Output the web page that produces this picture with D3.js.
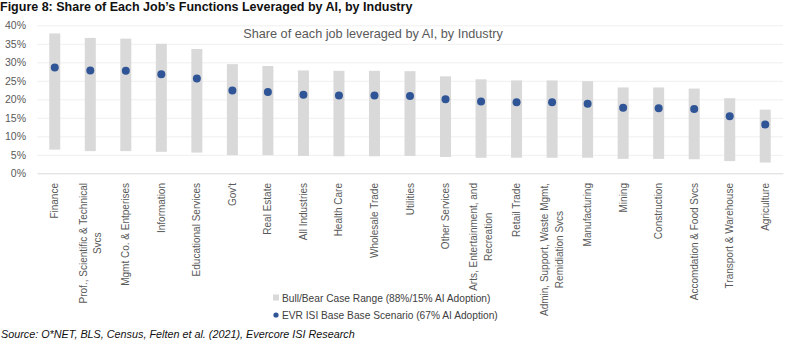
<!DOCTYPE html>
<html>
<head>
<meta charset="utf-8">
<script src="https://cdn.jsdelivr.net/npm/d3@7"></script>
<style>
  body { margin: 0; background: #fff; }
  svg { display: block; font-family: Arial, "Liberation Sans", sans-serif; }
  .grid line { stroke: #efefef; stroke-width: 1; }
  .grid .domain { display: none; }
</style>
</head>
<body>
<script>
// Industries in chart order ("\n" = line break in the axis label)
const categories = [
  "Finance", "Prof., Scientific & Technical\nSvcs", "Mgmt Co. & Entperises",
  "Information", "Educational Services", "Gov't", "Real Estate", "All Industries",
  "Health Care", "Wholesale Trade", "Utilities", "Other Services",
  "Arts, Entertainment, and\nRecreation", "Retail Trade",
  "Admin, Support, Waste Mgmt,\nRemidiation Svcs", "Manufacturing", "Mining",
  "Construction", "Accomdation & Food Svcs", "Transport & Warehouse", "Agriculture"
];
// Bull case (88% adoption) - top of grey bar
const bullCase = [37.8, 36.6, 36.4, 35.0, 33.6, 29.5, 29.0, 27.8, 27.7, 27.7, 27.6,
  26.2, 25.4, 25.1, 25.1, 24.9, 23.2, 23.2, 22.9, 20.3, 17.2];
// Bear case (15% adoption) - bottom of grey bar
const bearCase = [6.4, 6.0, 6.0, 5.8, 5.6, 4.9, 4.9, 4.7, 4.6, 4.6, 4.7,
  4.4, 4.2, 4.2, 4.2, 4.2, 3.9, 3.9, 3.8, 3.3, 2.9];
// EVR ISI base scenario (67% adoption)
const baseCase = [28.6, 27.8, 27.7, 26.8, 25.6, 22.4, 22.0, 21.2, 21.0, 21.0, 20.9,
  20.0, 19.4, 19.2, 19.2, 18.8, 17.7, 17.6, 17.4, 15.4, 13.2];
const yTicks = [0, 5, 10, 15, 20, 25, 30, 35, 40];

const rows = categories.map((c, i) => ({ cat: c, hi: bullCase[i], lo: bearCase[i], base: baseCase[i] }));

const W = 800, H = 342;
const plot = { left: 37, right: 783, top: 25.3, bottom: 173.3 };

const svg = d3.select("body").append("svg")
  .attr("width", W).attr("height", H);

const x = d3.scaleBand().domain(categories).range([plot.left, plot.right]);
const y = d3.scaleLinear().domain([0, 40]).range([plot.bottom, plot.top]);

// gridlines
svg.append("g")
  .attr("class", "grid")
  .attr("transform", `translate(${plot.left},0)`)
  .call(d3.axisLeft(y).tickValues(yTicks.slice(1)).tickSize(-(plot.right - plot.left)).tickFormat(""));

// y axis labels
const yAxis = svg.append("g")
  .attr("transform", `translate(${plot.left},0)`)
  .call(d3.axisLeft(y).tickValues(yTicks).tickSize(0).tickPadding(11).tickFormat(d => d + "%"));
yAxis.select(".domain").remove();
yAxis.selectAll("text").attr("font-size", "10.5px").attr("fill", "#595959").attr("font-family", "Arial, 'Liberation Sans', sans-serif");

// chart subtitle
svg.append("text")
  .attr("x", 373).attr("y", 37.5)
  .attr("text-anchor", "middle")
  .attr("font-size", "12.7px").attr("fill", "#595959")
  .text("Share of each job leveraged by AI, by Industry");

// bull/bear range bars
const barW = 11;
svg.selectAll(".range")
  .data(rows).enter().append("rect")
  .attr("class", "range")
  .attr("x", d => x(d.cat) + x.bandwidth() / 2 - barW / 2)
  .attr("width", barW)
  .attr("y", d => y(d.hi))
  .attr("height", d => y(d.lo) - y(d.hi))
  .attr("fill", "#d9d9d9");

// x axis line
const xAxis = svg.append("g")
  .attr("transform", `translate(0,${plot.bottom})`)
  .call(d3.axisBottom(x).tickSize(0).tickFormat(""));
xAxis.select(".domain").attr("stroke", "#d9d9d9");

// rotated, possibly multi-line category labels
const lh = 14.5;
xAxis.selectAll(".tick").each(function (d) {
  const lines = d.split("\n");
  const g = d3.select(this).append("g")
    .attr("transform", `translate(0,${183 - plot.bottom}) rotate(-90)`);
  const t = g.selectAll("text").data(lines).enter().append("text")
    .attr("text-anchor", "middle")
    .attr("font-size", "10px")
    .attr("fill", "#595959")
    .attr("font-family", "Arial, 'Liberation Sans', sans-serif")
    .attr("y", (l, i) => (i - (lines.length - 1) / 2) * lh)
    .attr("dy", "0.35em")
    .text(l => l);
  let maxLen = 0;
  t.each(function () { maxLen = Math.max(maxLen, this.getComputedTextLength()); });
  t.attr("x", -maxLen / 2);
});

// base scenario dots
svg.selectAll(".base")
  .data(rows).enter().append("circle")
  .attr("class", "base")
  .attr("cx", d => x(d.cat) + x.bandwidth() / 2)
  .attr("cy", d => y(d.base))
  .attr("r", 4)
  .attr("fill", "#2f5597");

// legend
const legend = svg.append("g").attr("transform", "translate(273,0)");
legend.append("rect").attr("x", 0).attr("y", 294.5).attr("width", 6).attr("height", 6).attr("fill", "#d9d9d9");
legend.append("text").attr("x", 9).attr("y", 301.5).attr("font-size", "10.2px").attr("fill", "#404040")
  .text("Bull/Bear Case Range (88%/15% AI Adoption)");
legend.append("circle").attr("cx", 3).attr("cy", 315).attr("r", 2.6).attr("fill", "#2f5597");
legend.append("text").attr("x", 9).attr("y", 318.5).attr("font-size", "10.2px").attr("fill", "#404040")
  .text("EVR ISI Base Base Scenario (67% AI Adoption)");

// figure title and source
svg.append("text")
  .attr("x", 0).attr("y", 11)
  .attr("font-size", "12.5px").attr("font-weight", "bold").attr("fill", "#111")
  .text("Figure 8: Share of Each Job\u2019s Functions Leveraged by AI, by Industry");

svg.append("text")
  .attr("x", 1).attr("y", 337.5)
  .attr("font-size", "10.8px").attr("font-style", "italic").attr("fill", "#111")
  .text("Source: O*NET, BLS, Census, Felten et al. (2021), Evercore ISI Research");
</script>
</body>
</html>
